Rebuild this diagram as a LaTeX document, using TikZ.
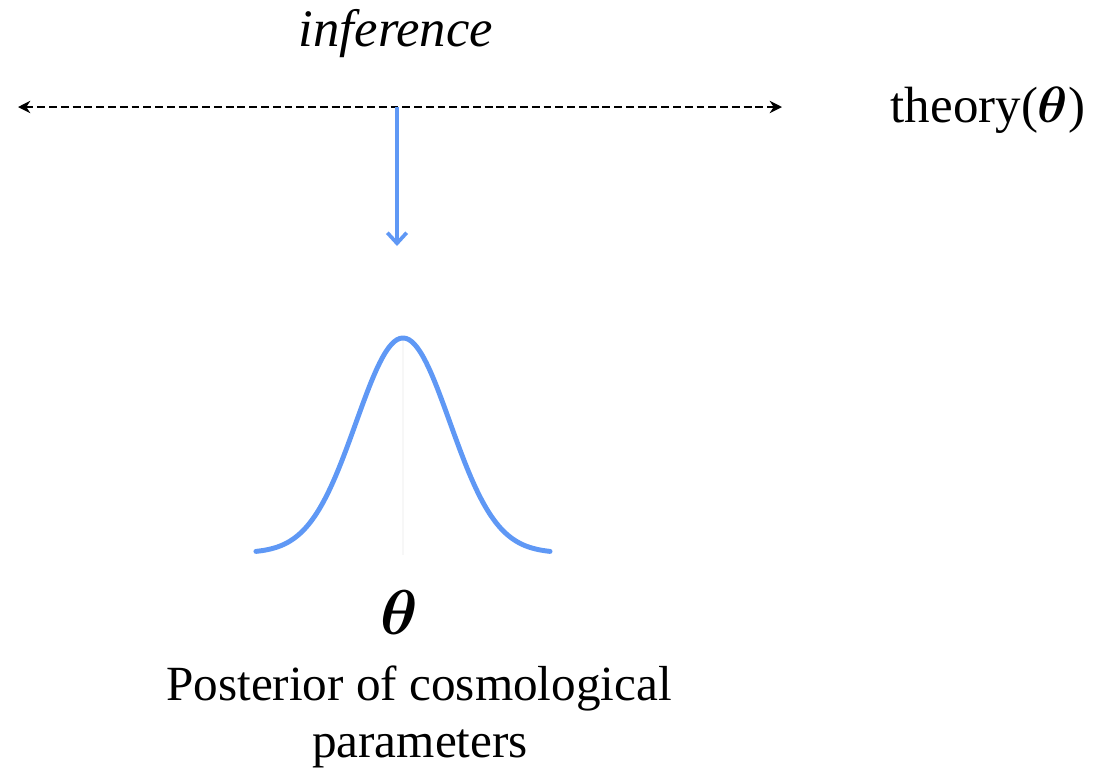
\RequirePackage{fix-cm}
\documentclass[tikz,border=0pt]{standalone}
\usepackage{amsmath,bm}
\usepackage{fontspec}
\setmainfont{Liberation Serif}
\usetikzlibrary{arrows.meta}
\definecolor{pblue}{RGB}{95,152,245}
\tikzset{
  lbl/.style={anchor=base, inner sep=0pt, font=\fontsize{28}{34}\selectfont},
  dashline/.style={black, line width=1.5pt, dash pattern=on 4.5pt off 2.2pt, {Stealth[length=7pt,width=7pt]}-{Stealth[length=7pt,width=7pt]}},
  bluearrow/.style={pblue, line width=2.1pt, -{Straight Barb[length=6pt,width=11pt,line width=2.1pt]}},
  curve/.style={pblue, line width=2.8pt, line cap=round}
}
\begin{document}
\begin{tikzpicture}[x=0.02cm, y=-0.02cm]
\useasboundingbox (0,0) rectangle (1099,775);
% labels
\node[lbl, font=\fontsize{30}{36}\selectfont\itshape] (inf) at (396,46) {inference};
\node[lbl, font=\fontsize{29}{35}\selectfont] (theory) at (988,122) {theory($\bm{\theta}$)};
\node[lbl, font=\fontsize{36}{42}\selectfont] (theta) at (399,634) {$\bm{\theta}$};
\node[lbl] (post) at (419,700) {Posterior of cosmological};
\node[lbl] (param) at (420,757) {parameters};
% dashed axis
\coordinate (L) at (18,107);
\coordinate (R) at (782,107);
\coordinate (M) at (397,107);
\coordinate (A) at (397,246);
\draw[dashline] (L) -- (R);
\draw[bluearrow] (M) -- (A);
% faint centre line
\coordinate (peak) at (403,338);
\coordinate (base) at (403,555);
\draw[black!3, line width=0.6pt] (peak) -- (base);
% gaussian
\draw[curve] plot[domain=-3.13:3.13, samples=120, smooth] ({403+47*\x},{553-215*exp(-(\x)^2/2)});
\end{tikzpicture}
\end{document}
